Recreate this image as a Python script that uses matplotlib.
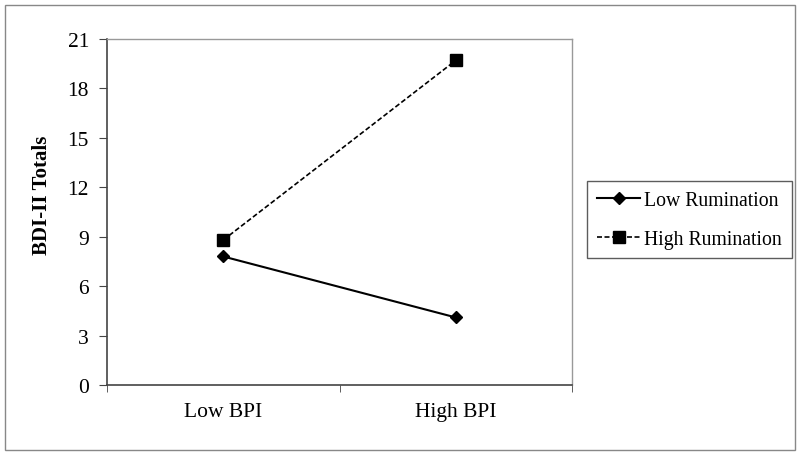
import matplotlib
matplotlib.use("Agg")
import matplotlib.pyplot as plt
from matplotlib.patches import Rectangle
from matplotlib.ticker import FixedLocator

categories = ["Low BPI", "High BPI"]
low_rumination = [7.8, 4.1]
high_rumination = [8.8, 19.7]
yticks = [0, 3, 6, 9, 12, 15, 18, 21]

plt.rcParams['font.family'] = ['Liberation Serif', 'DejaVu Serif']

fig = plt.figure(figsize=(8, 4.56), dpi=100)
ax = fig.add_axes([107/800, 1-386/456, (572-107)/800, (386-40)/456])

x = list(range(len(categories)))
ax.plot(x, low_rumination, color='black', linestyle='-', linewidth=1.5,
        marker='D', markersize=6.5, label='Low Rumination')
ax.plot(x, high_rumination, color='black', linestyle=(0, (3, 1.5)), linewidth=1.2,
        marker='s', markersize=8, label='High Rumination')

ax.set_xlim(-0.5, 1.5)
ax.set_ylim(0, 21)
ax.set_yticks(yticks)
ax.set_xticks(x)
ax.set_xticklabels(categories)
ax.xaxis.set_minor_locator(FixedLocator([-0.5, 0.5, 1.5]))
ax.tick_params(axis='x', which='major', length=0, labelsize=15.5, pad=12)
ax.tick_params(axis='x', which='minor', length=5, direction='out', color='#444444')
ax.tick_params(axis='y', length=6, direction='out', labelsize=15.5, pad=7, color='#444444')

for s in ['left', 'bottom']:
    ax.spines[s].set_color('#444444')
    ax.spines[s].set_linewidth(1.2)
for s in ['top', 'right']:
    ax.spines[s].set_color('#999999')
    ax.spines[s].set_linewidth(1.0)

ax.set_ylabel('BDI-II Totals', fontsize=15, fontweight='bold')
ax.yaxis.set_label_coords((52-107)/465, (386-195)/346)

leg = fig.legend(loc='upper left', bbox_to_anchor=(587/800, 1-182/456),
                 fontsize=14.2, frameon=True, fancybox=False, handlelength=2.2,
                 labelspacing=1.0, borderpad=0.5, handletextpad=0.2,
                 borderaxespad=0)
leg.get_frame().set_edgecolor('#333333')
leg.get_frame().set_linewidth(1.0)

fig.patches.append(Rectangle((5/800, 5/456), 790/800, 445/456, transform=fig.transFigure,
                             fill=False, edgecolor='#888888', linewidth=1.0))

fig.savefig('out.png', dpi=100)
